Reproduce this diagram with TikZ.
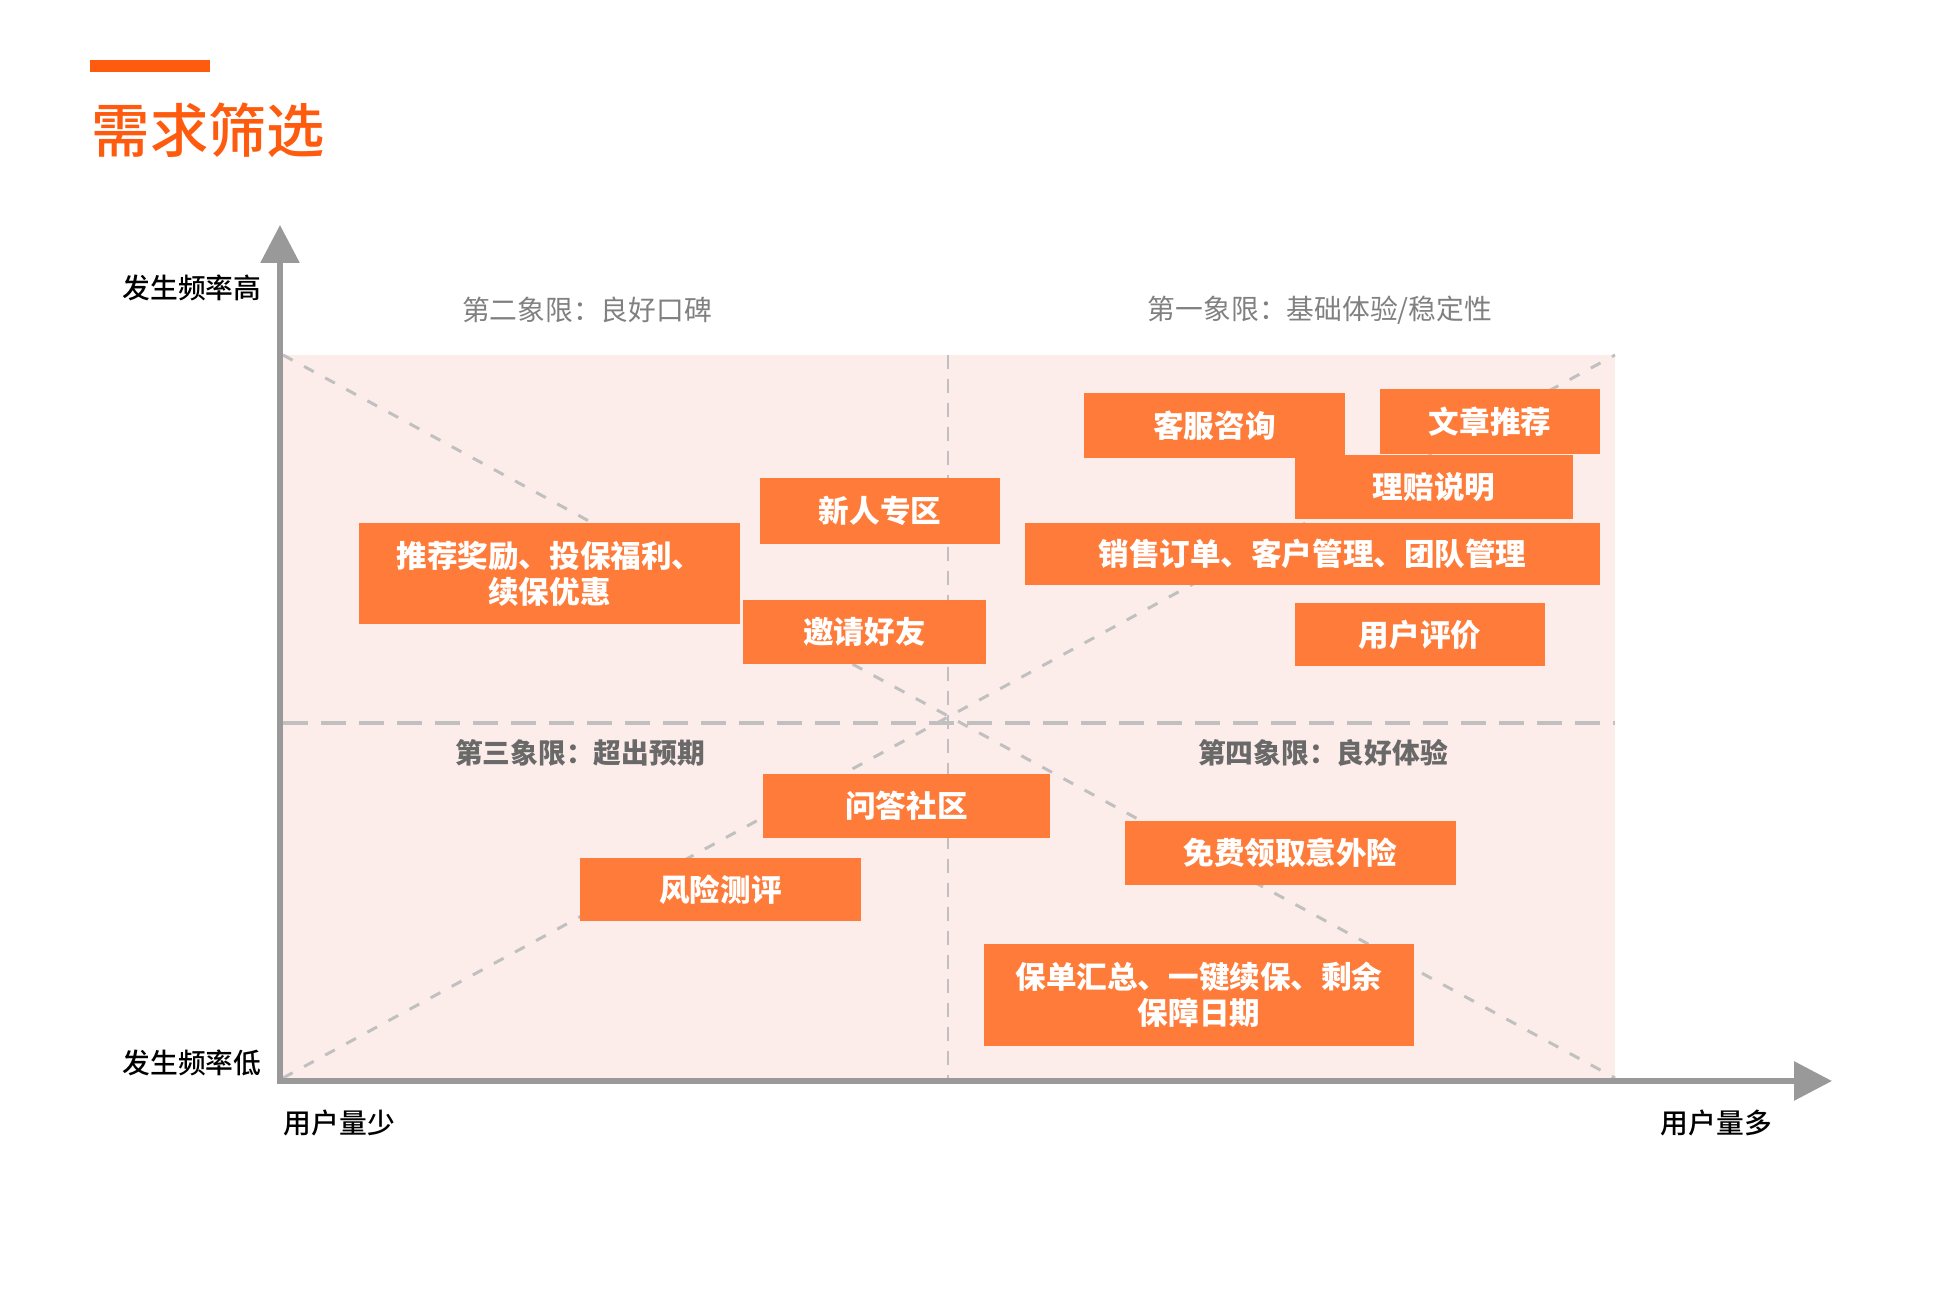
\documentclass[tikz,border=0pt]{standalone}
\usepackage{fontspec}
\setmainfont{Noto Sans CJK SC}
\newfontfamily\cjkmedium{Noto Sans CJK SC Medium}
\usetikzlibrary{arrows.meta}
\definecolor{titleorange}{RGB}{255,91,15}
\definecolor{boxorange}{RGB}{254,123,57}
\definecolor{quadpink}{RGB}{253,237,234}
\definecolor{axisgray}{RGB}{153,153,153}
\definecolor{dashgray}{RGB}{192,192,192}
\definecolor{labelgray}{RGB}{128,128,128}
\definecolor{darklabel}{RGB}{105,105,105}

\begin{document}
\begin{tikzpicture}[x=1cm,y=1cm,>={Triangle[length=.38cm,width=.38cm]},
  itembox/.style={fill=boxorange,text=white,align=center,inner sep=0pt,
    font=\fontsize{8.7}{10.3}\selectfont\bfseries},
  quadlabel/.style={text=labelgray,inner sep=0pt,font=\fontsize{7.9}{9}\selectfont},
  quadbold/.style={text=darklabel,inner sep=0pt,font=\fontsize{7.9}{9}\selectfont\bfseries},
  axislabel/.style={inner sep=0pt,font=\fontsize{7.9}{9}\selectfont\cjkmedium}]
\path[use as bounding box] (0,0) rectangle (19.6,13.14);
% heading
\fill[titleorange] (0.90,12.54) rectangle (2.10,12.42);
\node[anchor=west,inner sep=0pt,text=titleorange,font=\fontsize{16.6}{20}\selectfont\cjkmedium] (title) at (0.91,11.84) {需求筛选};
% quadrant area
\coordinate (nw) at (2.83,9.59);
\coordinate (ne) at (16.15,9.59);
\coordinate (sw) at (2.83,2.36);
\coordinate (se) at (16.15,2.36);
\fill[quadpink] (sw) rectangle (ne);
\draw[dashgray,line width=.03cm,dash pattern=on .11cm off .13cm] (nw)--(se);
\draw[dashgray,line width=.03cm,dash pattern=on .11cm off .13cm] (sw)--(ne);
\draw[dashgray,line width=.025cm,dash pattern=on .14cm off .10cm] (9.48,9.59)--(9.48,2.36);
\draw[dashgray,line width=.035cm,dash pattern=on .25cm off .13cm] (2.83,5.91)--(16.15,5.91);
\node[quadlabel] (q2) at (5.87,10.04) {第二象限：良好口碑};
\node[quadlabel] (q1) at (13.20,10.04) {第一象限：基础体验/稳定性};
\node[quadbold] (q3) at (5.80,5.61) {第三象限：超出预期};
\node[quadbold] (q4) at (13.23,5.61) {第四象限：良好体验};
% first quadrant
\node[itembox,minimum width=2.61cm,minimum height=.65cm] (service) at (12.145,8.885) {客服咨询};
\node[itembox,minimum width=2.20cm,minimum height=.65cm] (articles) at (14.90,8.925) {文章推荐};
\node[itembox,minimum width=2.78cm,minimum height=.64cm] (claims) at (14.34,8.27) {理赔说明};
\node[itembox,minimum width=5.75cm,minimum height=.62cm] (sales) at (13.125,7.60) {销售订单、客户管理、团队管理};
\node[itembox,minimum width=2.50cm,minimum height=.63cm] (reviews) at (14.20,6.795) {用户评价};
% second quadrant
\node[itembox,minimum width=2.40cm,minimum height=.66cm] (newbie) at (8.80,8.03) {新人专区};
\node[itembox,minimum width=3.81cm,minimum height=1.01cm] (rewards) at (5.495,7.405) {推荐奖励、投保福利、\\续保优惠};
\node[itembox,minimum width=2.43cm,minimum height=.64cm] (invite) at (8.645,6.82) {邀请好友};
% third quadrant
\node[itembox,minimum width=2.87cm,minimum height=.64cm] (qa) at (9.065,5.08) {问答社区};
\node[itembox,minimum width=2.81cm,minimum height=.63cm] (risk) at (7.205,4.245) {风险测评};
% fourth quadrant
\node[itembox,minimum width=3.31cm,minimum height=.64cm] (freeins) at (12.905,4.61) {免费领取意外险};
\node[itembox,minimum width=4.30cm,minimum height=1.02cm] (policy) at (11.99,3.19) {保单汇总、一键续保、剩余\\保障日期};
% axes
\coordinate (origin) at (2.80,2.33);
\coordinate (ytip) at (2.80,10.89);
\coordinate (xtip) at (18.32,2.33);
\draw[->,axisgray,line width=.06cm] (origin)--(ytip);
\draw[->,axisgray,line width=.06cm] ([xshift=-.03cm]origin)--(xtip);
\node[axislabel,anchor=east] (freqhigh) at (2.62,10.26) {发生频率高};
\node[axislabel,anchor=east] (freqlow) at (2.62,2.51) {发生频率低};
\node[axislabel,anchor=west] (usersfew) at (2.83,1.91) {用户量少};
\node[axislabel,anchor=west] (usersmany) at (16.60,1.91) {用户量多};
\end{tikzpicture}
\end{document}
